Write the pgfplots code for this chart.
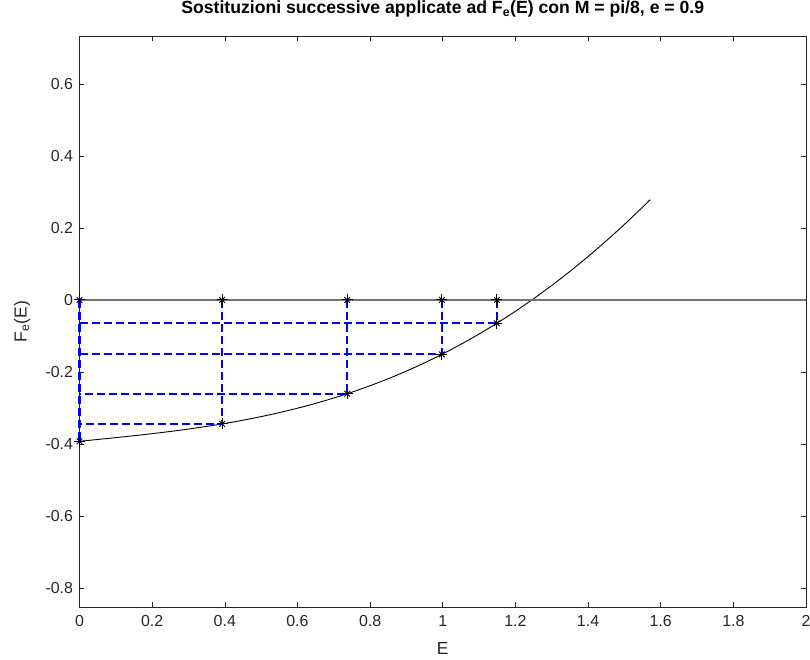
\documentclass[border=0pt]{standalone}
\usepackage{pgfplots}
\pgfplotsset{compat=1.18}
\usepackage{fontspec}
\setmainfont{Liberation Sans}
\usetikzlibrary{calc}
\definecolor{axgray}{rgb}{0.15,0.15,0.15}
\definecolor{zerogray}{rgb}{0.45,0.45,0.45}
\definecolor{dblue}{rgb}{0,0,1}

\begin{document}
\begin{tikzpicture}
\begin{axis}[
  scale only axis,
  width=726.5bp, height=571bp,
  xmin=0, xmax=2, ymin=-0.853, ymax=0.733,
  xtick={0,0.2,0.4,0.6,0.8,1,1.2,1.4,1.6,1.8,2},
  ytick={-0.8,-0.6,-0.4,-0.2,0,0.2,0.4,0.6},
  tick align=inside,
  major tick length=5bp,
  axis line style={axgray, line width=0.6bp},
  every tick/.style={axgray, line width=0.6bp},
  /pgf/number format/assume math mode=true,
  /pgf/number format/fixed,
  ticklabel style={font=\fontsize{16}{16}\selectfont, text=axgray},
  xticklabel style={yshift=-5bp},
  yticklabel style={xshift=-3bp},
  title={\bfseries Sostituzioni successive applicate ad F\textsubscript{e}(E) con M = pi/8, e = 0.9},
  title style={at={(axis description cs:0.5,1.037)}, anchor=center, font=\fontsize{17.7}{17.7}\selectfont, text=black},
  xlabel={E},
  xlabel style={at={(axis description cs:0.5,-0.072)}, anchor=center, font=\fontsize{17.5}{17.5}\selectfont, text=axgray},
  ylabel={F\textsubscript{e}(E)},
  ylabel style={at={(axis description cs:-0.079,0.5)}, anchor=center, font=\fontsize{17.5}{17.5}\selectfont, text=axgray},
  clip=false,
]
% curve F_e(E) = E - e sin E - M
\addplot[black, line width=0.9bp, smooth] coordinates {
(0,-0.3927) (0.05,-0.3877) (0.1,-0.3826) (0.15,-0.3772) (0.2,-0.3715) (0.25,-0.3654)
(0.3,-0.3587) (0.35,-0.3513) (0.4,-0.3432) (0.45,-0.3342) (0.5,-0.3242) (0.55,-0.3131)
(0.6,-0.3009) (0.65,-0.2874) (0.7,-0.2725) (0.75,-0.2562) (0.8,-0.2383) (0.85,-0.2189)
(0.9,-0.1977) (0.95,-0.1748) (1.0,-0.1500) (1.05,-0.1234) (1.1,-0.0948) (1.15,-0.0642)
(1.2,-0.0315) (1.25,0.0032) (1.3,0.0401) (1.35,0.0791) (1.4,0.1204) (1.45,0.1639)
(1.5,0.2096) (1.55,0.2575) (1.5708,0.2781)
};
% zero line
\addplot[zerogray, line width=1.5bp] coordinates {(0,0) (2,0)};
% dashed construction lines
\addplot[color=dblue, line width=2bp, dash pattern=on 8bp off 4bp, empty line=jump] table[row sep=crcr] {
x y\\
0 0\\
0 -0.3927\\
\\
0.3927 0\\
0.3927 -0.3444\\
0 -0.3444\\
\\
0.7371 0\\
0.7371 -0.2605\\
0 -0.2605\\
\\
0.9976 0\\
0.9976 -0.1513\\
0 -0.1513\\
\\
1.1489 0\\
1.1489 -0.0649\\
0 -0.0649\\
};
% markers (MATLAB '*' = plus + cross)
\addplot[only marks, mark=+, mark size=5.5bp, black, mark options={line width=0.9bp}] coordinates {
(0,0) (0.3927,0) (0.7371,0) (0.9976,0) (1.1489,0)
(0,-0.3927) (0.3927,-0.3444) (0.7371,-0.2605) (0.9976,-0.1513) (1.1489,-0.0649)
};
\addplot[only marks, mark=x, mark size=4bp, black, mark options={line width=0.9bp}] coordinates {
(0,0) (0.3927,0) (0.7371,0) (0.9976,0) (1.1489,0)
(0,-0.3927) (0.3927,-0.3444) (0.7371,-0.2605) (0.9976,-0.1513) (1.1489,-0.0649)
};
\end{axis}
\pgfresetboundingbox
\path ($(current axis.south west)+(-79.5bp,-53bp)$) rectangle ($(current axis.north east)+(4bp,36bp)$);
\end{tikzpicture}
\end{document}
